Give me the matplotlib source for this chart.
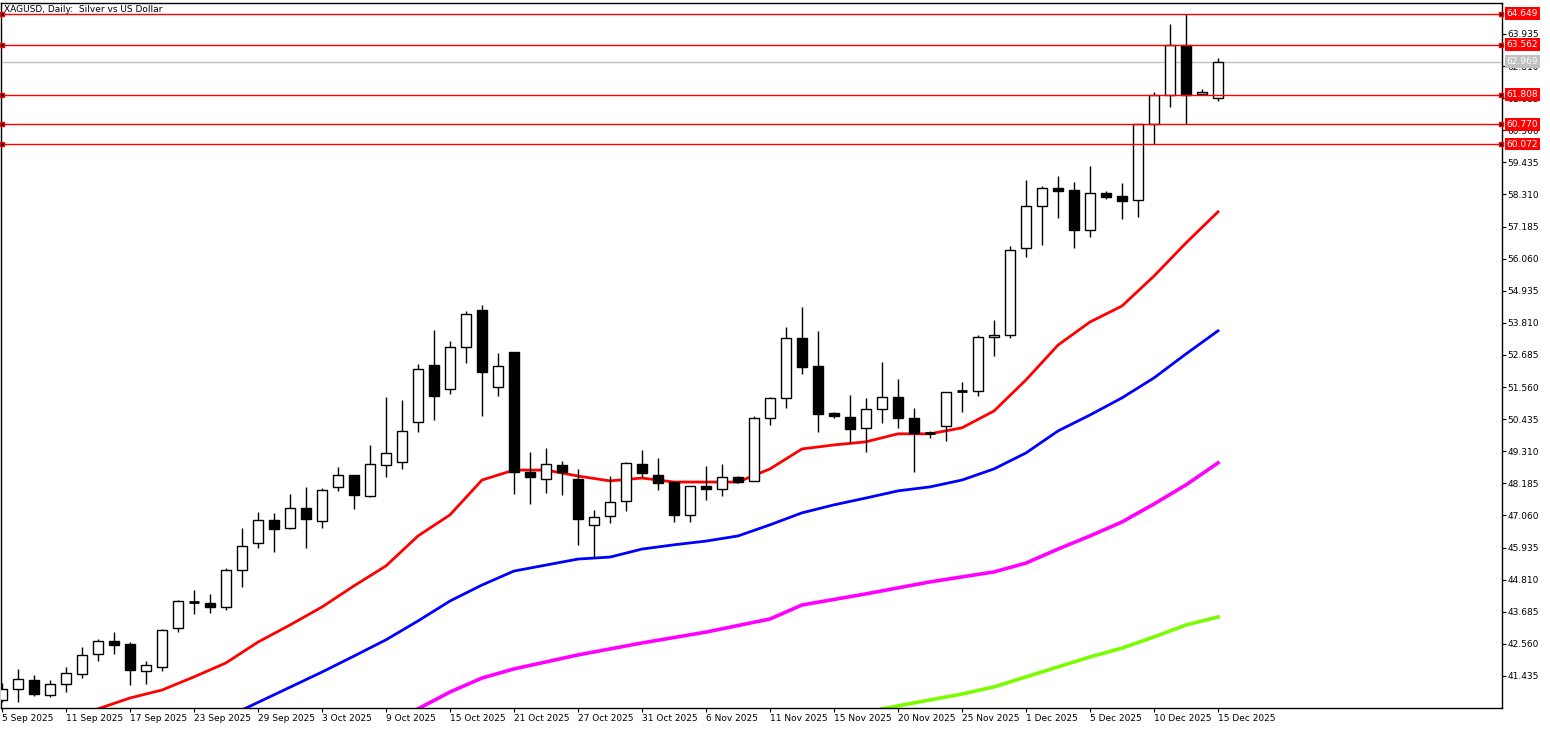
import numpy as np
import matplotlib
matplotlib.use("Agg")
import matplotlib.pyplot as plt
from matplotlib.patches import Rectangle

# daily OHLC, XAGUSD, 5 Sep 2025 .. 15 Dec 2025
opens = [40.59, 40.98, 41.29, 40.77, 41.15, 41.50, 42.20, 42.66, 42.55, 41.61,
         41.75, 43.12, 44.03, 43.99, 43.85, 45.15, 46.09, 46.90, 46.62, 47.32,
         46.87, 48.06, 48.48, 47.74, 48.83, 48.93, 50.34, 52.33, 51.49, 52.96,
         54.26, 51.56, 52.79, 48.58, 48.34, 48.83, 48.34, 46.73, 47.04, 47.57,
         48.86, 48.48, 48.23, 47.08, 48.09, 47.99, 48.41, 48.27, 50.48, 51.18,
         53.28, 52.30, 50.65, 50.51, 50.13, 50.79, 51.21, 50.48, 49.95, 50.20,
         51.42, 51.42, 53.32, 53.39, 56.43, 57.91, 58.54, 58.47, 57.07, 58.36,
         58.26, 58.12, 60.77, 61.80, 63.562, 61.83, 61.69]
highs = [41.19, 41.68, 41.47, 41.29, 41.75, 42.45, 42.73, 42.98, 42.63, 41.96,
         43.08, 44.10, 44.45, 44.31, 45.22, 46.62, 47.18, 47.15, 47.81, 48.06,
         48.02, 48.76, 48.48, 49.53, 51.21, 51.11, 52.37, 53.56, 53.17, 54.23,
         54.44, 52.76, 52.79, 49.28, 49.42, 48.97, 48.69, 47.25, 48.44, 48.93,
         49.35, 49.07, 48.23, 48.09, 48.79, 48.86, 48.44, 50.55, 51.21, 53.67,
         54.37, 53.53, 50.69, 51.28, 51.18, 52.44, 51.84, 50.83, 50.02, 51.39,
         51.74, 53.39, 53.91, 56.50, 58.82, 58.61, 58.96, 58.75, 59.31, 58.43,
         58.71, 60.78, 61.90, 64.29, 64.649, 62.01, 63.09]
lows = [40.52, 40.52, 40.73, 40.70, 40.87, 41.36, 41.96, 42.20, 41.12, 41.15,
        41.61, 42.98, 43.61, 43.64, 43.75, 44.55, 45.92, 45.78, 46.60, 45.92,
        46.62, 47.92, 47.29, 47.71, 48.41, 48.69, 49.99, 50.41, 51.32, 52.40,
        50.55, 51.25, 47.81, 47.46, 47.85, 47.78, 46.03, 45.57, 46.80, 47.22,
        48.41, 47.95, 46.83, 46.83, 47.60, 47.74, 48.20, 48.27, 50.23, 50.83,
        52.02, 49.99, 50.48, 49.60, 49.28, 50.30, 50.13, 48.58, 49.78, 49.67,
        50.69, 51.25, 52.65, 53.28, 56.12, 56.54, 57.49, 56.43, 56.82, 58.15,
        57.45, 57.52, 60.07, 61.38, 60.77, 61.80, 61.59]
closes = [40.98, 41.33, 40.80, 41.15, 41.54, 42.17, 42.66, 42.52, 41.64, 41.82,
          43.05, 44.06, 44.01, 43.85, 45.15, 45.99, 46.90, 46.59, 47.32, 46.93,
          47.95, 48.48, 47.78, 48.86, 49.25, 50.02, 52.19, 51.25, 52.96, 54.12,
          52.09, 52.30, 48.58, 48.41, 48.86, 48.58, 46.94, 47.01, 47.53, 48.90,
          48.55, 48.20, 47.08, 48.09, 47.99, 48.41, 48.23, 50.48, 51.18, 53.28,
          52.26, 50.62, 50.55, 50.09, 50.79, 51.21, 50.48, 49.95, 49.99, 51.39,
          51.39, 53.32, 53.39, 56.36, 57.91, 58.54, 58.43, 57.07, 58.36, 58.22,
          58.08, 60.77, 61.80, 63.562, 61.80, 61.90, 62.969]

# moving averages, sampled at bar indices
ma_red_idx = [6, 8, 10, 12, 14, 16, 18, 20, 22, 24, 26, 28, 30, 32, 34, 36, 38, 40,
              42, 44, 46, 48, 50, 52, 54, 56, 58, 60, 62, 64, 66, 68, 70, 72, 74, 76]
ma_red = [40.28, 40.66, 40.94, 41.40, 41.89, 42.62, 43.22, 43.85, 44.59, 45.29,
          46.34, 47.08, 48.30, 48.65, 48.65, 48.44, 48.27, 48.37, 48.23, 48.23,
          48.23, 48.69, 49.39, 49.53, 49.64, 49.92, 49.92, 50.13, 50.72, 51.81,
          53.03, 53.84, 54.40, 55.45, 56.61, 57.70]
ma_blue_idx = [15, 20, 22, 24, 26, 28, 30, 32, 34, 36, 38, 40, 42, 44, 46, 48, 50,
               52, 54, 56, 58, 60, 62, 64, 66, 68, 70, 72, 74, 76]
ma_blue = [40.24, 41.57, 42.13, 42.70, 43.36, 44.06, 44.62, 45.11, 45.32, 45.53,
           45.60, 45.88, 46.03, 46.16, 46.34, 46.73, 47.15, 47.43, 47.67, 47.92,
           48.06, 48.30, 48.69, 49.25, 50.02, 50.58, 51.18, 51.88, 52.72, 53.53]
ma_mag_idx = [26, 28, 30, 32, 36, 40, 44, 48, 50, 54, 58, 62, 64, 66, 68, 70, 72, 74, 76]
ma_mag = [40.28, 40.87, 41.36, 41.68, 42.17, 42.59, 42.97, 43.43, 43.92, 44.31,
          44.73, 45.08, 45.39, 45.88, 46.34, 46.83, 47.46, 48.13, 48.90]
ma_green_idx = [55, 57, 60, 62, 64, 66, 68, 70, 72, 74, 76]
ma_green = [40.28, 40.49, 40.80, 41.05, 41.40, 41.75, 42.10, 42.41, 42.80, 43.22, 43.50]

level_prices = [64.649, 63.562, 61.808, 60.770, 60.072]
bid_price = 62.969
ytick_vals = [41.435 + 1.125 * k for k in range(21)]
date_labels = ["5 Sep 2025", "11 Sep 2025", "17 Sep 2025", "23 Sep 2025", "29 Sep 2025",
               "3 Oct 2025", "9 Oct 2025", "15 Oct 2025", "21 Oct 2025", "27 Oct 2025",
               "31 Oct 2025", "6 Nov 2025", "11 Nov 2025", "15 Nov 2025", "20 Nov 2025",
               "25 Nov 2025", "1 Dec 2025", "5 Dec 2025", "10 Dec 2025", "15 Dec 2025"]

FS = 6.5

fig = plt.figure(figsize=(15.5, 7.29), dpi=100)
ax = fig.add_axes([1 / 1550, 21 / 729, 1501 / 1550, 705 / 729])
ax.set_xlim(-0.06, 93.75)
ax.set_ylim(40.31, 65.02)

# MAs under candles
ax.plot(ma_green_idx, ma_green, color="#7cfc00", lw=2.6, zorder=1)
ax.plot(ma_mag_idx, ma_mag, color="#ff00ff", lw=2.6, zorder=1)
ax.plot(ma_blue_idx, ma_blue, color="#0000ff", lw=2, zorder=1)
ax.plot(ma_red_idx, ma_red, color="#ff0000", lw=2, zorder=1)

bw = 0.62
for i, (o, h, l, c) in enumerate(zip(opens, highs, lows, closes)):
    ax.vlines(i, l, h, color="black", lw=1, zorder=2)
    lo, hi = min(o, c), max(o, c)
    face = "white" if c >= o else "black"
    if hi - lo < 0.04:
        ax.hlines(o, i - bw / 2, i + bw / 2, color="black", lw=2, zorder=3)
    else:
        ax.add_patch(Rectangle((i - bw / 2, lo), bw, hi - lo, facecolor=face,
                               edgecolor="black", lw=1, zorder=3))

# horizontal levels
for p in level_prices:
    ax.axhline(p, color="#ff0000", lw=1, zorder=4)
    ax.plot([0.0, 93.7], [p, p], ls="none", marker="s", ms=3.5, color="black",
            markeredgecolor="#ff0000", zorder=5, clip_on=False)
ax.axhline(bid_price, color="#c0c0c0", lw=1, zorder=0)

# right price axis
ax.yaxis.tick_right()
ax.set_yticks(ytick_vals)
ax.set_yticklabels([f"{v:.3f}" for v in ytick_vals], fontsize=FS)
ax.tick_params(axis="y", length=3, pad=1, direction="out")
for p in level_prices:
    ax.text(1.003, p, f"{p:.3f}", transform=ax.get_yaxis_transform(), fontsize=FS,
            color="white", va="center", ha="left", zorder=10,
            bbox=dict(boxstyle="square,pad=0.2", fc="#ff0000", ec="none"))
ax.text(1.003, bid_price, f"{bid_price:.3f}", transform=ax.get_yaxis_transform(),
        fontsize=FS, color="white", va="center", ha="left", zorder=10,
        bbox=dict(boxstyle="square,pad=0.2", fc="#c0c0c0", ec="none"))

# date axis
xt = list(range(0, 77, 4))
ax.set_xticks(xt)
ax.set_xticklabels(date_labels, fontsize=FS, ha="left")
ax.tick_params(axis="x", length=3, pad=1)

for s in ax.spines.values():
    s.set_linewidth(1)

ax.text(0.002, 0.997, "XAGUSD, Daily:  Silver vs US Dollar", transform=ax.transAxes,
        fontsize=FS, va="top", ha="left")

fig.savefig("out.png", dpi=100)
